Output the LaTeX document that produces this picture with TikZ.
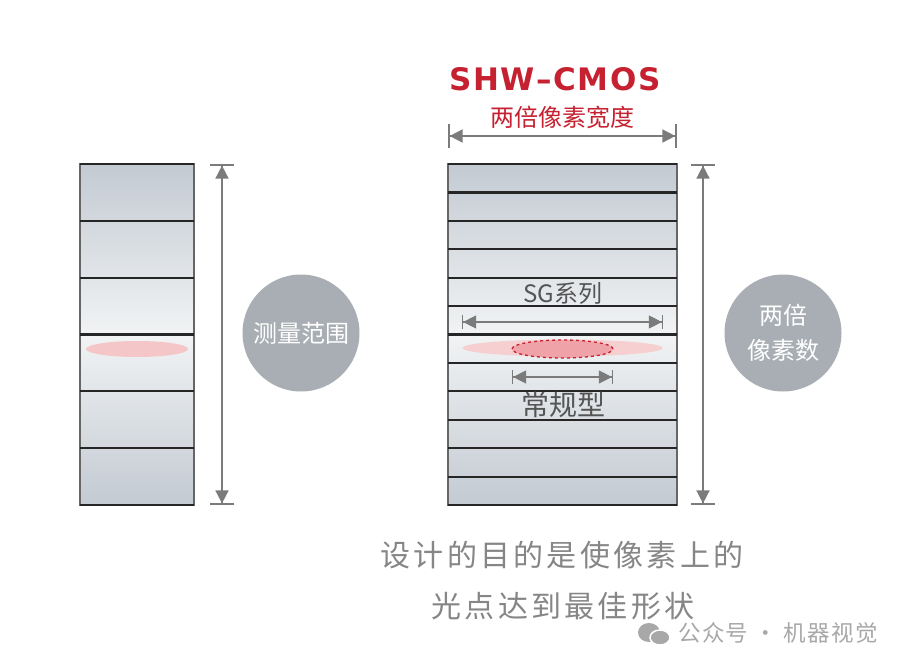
\documentclass[tikz,border=0pt]{standalone}
\usepackage{fontspec}
\setmainfont{DejaVu Sans}
\newfontfamily\cjk{Noto Sans CJK SC}
\newfontfamily\cjknote[LetterSpace=11]{Noto Sans CJK SC}
\newfontfamily\cjkmark[LetterSpace=6]{Noto Sans CJK SC}
\newfontfamily\shwfont[LetterSpace=5]{DejaVu Sans}
\usepackage{xcolor}
\usepackage{tikz}
\usetikzlibrary{arrows.meta, positioning, shapes.geometric}

\definecolor{pixblue}{HTML}{C3CAD2}
\definecolor{pixwhite}{HTML}{F1F3F4}
\definecolor{rulegray}{HTML}{7B7B7B}
\definecolor{ballgray}{HTML}{A8AEB3}
\definecolor{shwred}{HTML}{C62130}
\definecolor{spotpink}{HTML}{F5C6C8}
\definecolor{spotred}{HTML}{EFA3A8}
\definecolor{textgray}{HTML}{555555}
\definecolor{notegray}{HTML}{868686}
\definecolor{markgray}{HTML}{A8A8A8}

\begin{document}
\begin{tikzpicture}[x=1pt, y=-1pt, node distance=4pt and 4pt,
  sensor/.style={draw=black!60, line width=1.4pt, rectangle, inner sep=0pt,
    top color=pixblue, bottom color=pixblue, middle color=pixwhite},
  rowline/.style={draw=black!85, line width=2.2pt},
  dimline/.style={draw=rulegray, line width=1.6pt,
    {Bar[width=24pt]Triangle[length=13pt,width=13pt]}-{Triangle[length=13pt,width=13pt]Bar[width=24pt]}},
  sgline/.style={draw=rulegray, line width=1.1pt,
    {Bar[width=14pt]Triangle[length=13pt,width=13pt]}-{Triangle[length=13pt,width=13pt]Bar[width=14pt]}},
  spot/.style={ellipse, inner sep=0pt, fill=spotpink},
  ball/.style={circle, fill=ballgray, minimum size=117pt, inner sep=0pt,
    text=white, font=\cjk\fontsize{24}{35}\selectfont, align=center},
  redlabel/.style={inner sep=0pt, text=shwred, font=\cjk\fontsize{24}{28}\selectfont},
  innerlabel/.style={inner sep=0pt, text=textgray},
  note/.style={inner sep=0pt, text=notegray, font=\cjknote\fontsize{30}{34}\selectfont},
  wmlabel/.style={inner sep=0pt, text=markgray, font=\cjkmark\fontsize{22.5}{26}\selectfont}]

  \fill[white] (0,0) rectangle (905,669);
  \useasboundingbox (0,0) rectangle (905,669);

  % sensors
  \node[sensor, minimum width=114pt, minimum height=341pt] (lcol) at (137,334.5) {};
  \node[sensor, minimum width=229pt, minimum height=341pt] (rcol) at (562.5,334.5) {};
  \foreach \k in {0,...,6}
    \draw[rowline] (80,{164+\k*56.83}) -- (194,{164+\k*56.83});
  \foreach \k in {0,...,12}
    \draw[rowline] (448,{164+\k*28.42}) -- (677,{164+\k*28.42});

  % light spots
  \node[spot, minimum width=102pt, minimum height=16pt] (lspot) at (137,349) {};
  \node[spot, minimum width=200pt, minimum height=17pt, fill=spotpink!85] (wspot) at (562.5,348) {};
  \node[spot, minimum width=101pt, minimum height=18pt, fill=spotred,
    draw=shwred, dashed, line width=1.3pt] (nspot) at (562.5,349) {};

  % dimension lines
  \coordinate (ltop) at (222,164);
  \coordinate (lbot) at (222,505);
  \draw[dimline] (ltop) -- (lbot);
  \coordinate (rtop) at (703,164);
  \coordinate (rbot) at (703,505);
  \draw[dimline] (rtop) -- (rbot);
  \coordinate (wleft) at (448,136);
  \coordinate (wright) at (677,136);
  \draw[dimline] (wleft) -- (wright);
  \coordinate (sgleft) at (462,322);
  \coordinate (sgright) at (663,322);
  \draw[sgline] (sgleft) -- (sgright);
  \coordinate (nleft) at (512,377);
  \coordinate (nright) at (613,377);
  \draw[sgline] (nleft) -- (nright);

  % labels
  \node[redlabel] (wide) at (562.5,117) {两倍像素宽度};
  \node[inner sep=0pt, text=shwred, font=\shwfont\bfseries\fontsize{31}{34}\selectfont] (shw) at (555,79) {SHW–CMOS};
  \node[innerlabel, font=\cjk\fontsize{24}{28}\selectfont] (sg) at (563,293) {SG系列};
  \node[innerlabel, font=\cjk\fontsize{28}{32}\selectfont] (normal) at (563,405) {常规型};

  \node[ball] (lball) at (301,333) {测量范围};
  \node[ball] (rball) at (783,333) {两倍\\像素数};

  \node[note] (note1) at (562,555) {设计的目的是使像素上的};
  \node[note] (note2) at (563,606) {光点达到最佳形状};

  % watermark
  \fill[markgray] (649,632.5) ellipse (11pt and 9.5pt);
  \fill[markgray, draw=white, line width=1.5pt] (660,637.5) ellipse (10pt and 7.5pt);
  \node[wmlabel, anchor=west] (wmtext) at (678,633) {公众号 · 机器视觉};
\end{tikzpicture}
\end{document}
